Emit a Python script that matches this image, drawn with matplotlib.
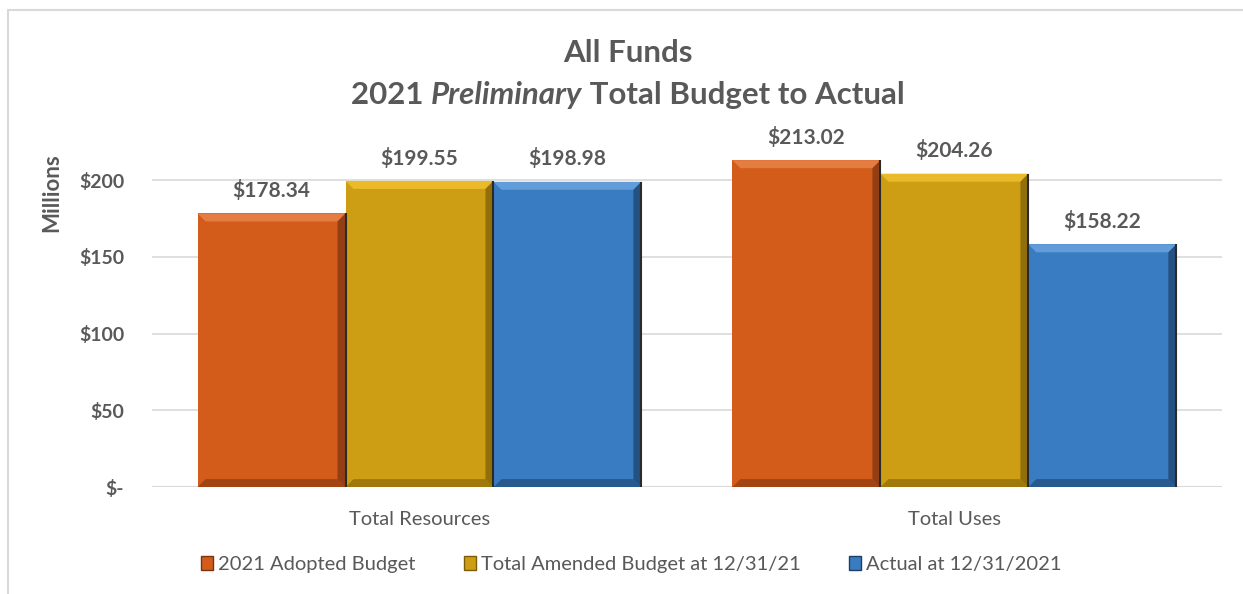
import matplotlib
matplotlib.use("Agg")
import matplotlib.pyplot as plt
from matplotlib.patches import Polygon, Patch
from matplotlib.lines import Line2D
import numpy as np

categories = ["Total Resources", "Total Uses"]
series_names = ["2021 Adopted Budget", "Total Amended Budget at 12/31/21", "Actual at 12/31/2021"]
adopted = [178.34, 213.02]
amended = [199.55, 204.26]
actual = [198.98, 158.22]
series_values = [adopted, amended, actual]
yticks = [0, 50, 100, 150, 200]
ytick_labels = ["$-", "$50", "$100", "$150", "$200"]

colors = ["#D35C1B", "#CD9E13", "#3A7CC1"]
light = ["#E8844A", "#F0C030", "#6AA4DE"]
dark = ["#7A3210", "#7A5C08", "#1C3F66"]
text_color = "#595959"

plt.rcParams['font.family'] = ['Lato', 'DejaVu Sans']

fig = plt.figure(figsize=(12.43, 5.94), dpi=100)
ax = fig.add_axes([0.1223, 0.180, 0.8607, 0.620])
ax.set_xlim(-0.5, 1.5)
ax.set_ylim(0, 240)

x = np.arange(len(categories))
width = 0.2766
fig.canvas.draw()
renderer = fig.canvas.get_renderer()

bbox = ax.get_window_extent()
px_x = 2.0 / bbox.width
px_y = 240.0 / bbox.height
bx = 8 * px_x
by = 8 * px_y

for i, vals in enumerate(series_values):
    xs = x + (i - 1) * width
    bars = ax.bar(xs, vals, width=width, color=colors[i], zorder=3, linewidth=0)
    for b in bars:
        x0 = b.get_x(); x1 = x0 + b.get_width()
        y0 = 0; y1 = b.get_height()
        top = Polygon([[x0, y1], [x1, y1], [x1 - bx, y1 - by], [x0 + bx, y1 - by]],
                      closed=True, facecolor=light[i], edgecolor="none", zorder=4, alpha=0.85)
        right = Polygon([[x1, y1], [x1, y0], [x1 - bx, y0 + by], [x1 - bx, y1 - by]],
                        closed=True, facecolor=dark[i], edgecolor="none", zorder=4, alpha=0.7)
        bottom = Polygon([[x0, y0], [x1, y0], [x1 - bx, y0 + by], [x0 + bx, y0 + by]],
                         closed=True, facecolor=dark[i], edgecolor="none", zorder=4, alpha=0.55)
        for p in (top, right, bottom):
            ax.add_patch(p)
        ax.plot([x1, x1], [y0, y1], color="#2a2a2a", lw=1.5, zorder=5, solid_capstyle="butt")
        ax.text(b.get_x() + b.get_width() / 2, y1 + 8, f"${y1:.2f}", ha="center", va="bottom",
                fontsize=15, fontweight="bold", color=text_color, zorder=6)

ax.set_yticks(yticks)
ax.set_yticklabels(ytick_labels)
ax.set_xticks(x)
ax.set_xticklabels(categories)
ax.tick_params(axis="y", length=0, pad=20, labelsize=14, labelcolor=text_color)
for t in ax.get_yticklabels():
    t.set_fontweight("bold")
ax.tick_params(axis="x", length=0, pad=17, labelsize=14.5, labelcolor=text_color)

ax.grid(axis="y", color="#D9D9D9", lw=1.2, zorder=0)
ax.set_axisbelow(True)
for s in ax.spines.values():
    s.set_visible(False)
ax.axhline(0, color="#D9D9D9", lw=1.5, zorder=2)

ax.set_ylabel("Millions", fontsize=16, fontweight="bold", color=text_color)
ax.yaxis.set_label_coords(-0.084, 0.80)

# Title
fig.text(0.505, 0.911, "All Funds", ha="center", va="center", fontsize=22.5,
         fontweight="bold", color=text_color)
parts = [("2021 ", "normal"), ("Preliminary", "italic"), (" Total Budget to Actual", "normal")]
texts = []
for s, st in parts:
    t = fig.text(0, 0.840, s, ha="left", va="center", fontsize=22.5, fontweight="bold",
                 fontstyle=st, color=text_color)
    texts.append(t)
widths = [t.get_window_extent(renderer).width for t in texts]
total = sum(widths)
figw = fig.get_figwidth() * fig.dpi
start = 0.505 * figw - total / 2
for t, w in zip(texts, widths):
    t.set_x(start / figw)
    start += w

handles = [Patch(facecolor=colors[i], edgecolor=dark[i], lw=1) for i in range(3)]
fig.legend(handles, series_names, loc="center", bbox_to_anchor=(0.508, 0.05), ncol=3,
           frameon=False, handlelength=0.6, handleheight=0.7, handletextpad=0.25,
           columnspacing=2.4, labelcolor=text_color, prop={"size": 14.5})

fig.add_artist(Line2D([0.0064, 0.0064], [0, 0.983], color="#D9D9D9", lw=1.5, transform=fig.transFigure))
fig.add_artist(Line2D([0.0064, 1.0], [0.983, 0.983], color="#D9D9D9", lw=1.5, transform=fig.transFigure))

fig.savefig("out.png", dpi=100, facecolor="white")
